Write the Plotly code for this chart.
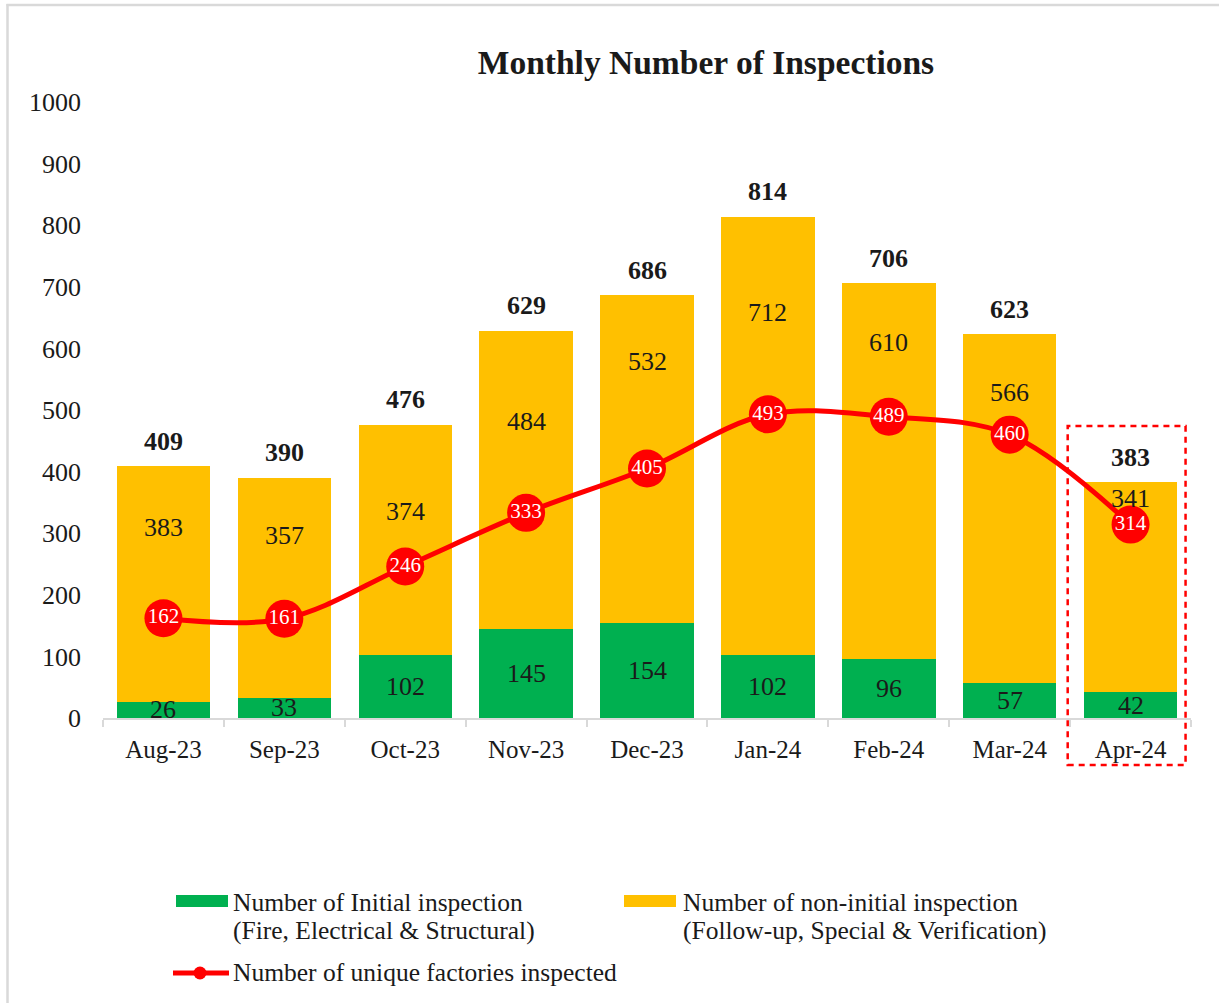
import plotly.graph_objects as go

# ---------------- data ----------------
months = ["Aug-23", "Sep-23", "Oct-23", "Nov-23", "Dec-23", "Jan-24", "Feb-24", "Mar-24", "Apr-24"]
initial = [26, 33, 102, 145, 154, 102, 96, 57, 42]
non_initial = [383, 357, 374, 484, 532, 712, 610, 566, 341]
unique_factories = [162, 161, 246, 333, 405, 493, 489, 460, 314]
y_ticks = [0, 100, 200, 300, 400, 500, 600, 700, 800, 900, 1000]

# label anchor heights (data units) for the non-initial labels, as placed in the original
non_initial_label_y = [309, 297, 336, 482, 578, 658, 609, 528, 357]

totals = [a + b for a, b in zip(initial, non_initial)]

# ---------------- styling ----------------
FONT = "Liberation Serif"
GREEN = "#00B050"
YELLOW = "#FFC000"
RED = "#FF0000"
TXT = "#1a1a1a"
AXIS_GREY = "#d9d9d9"

W_FIG, H_FIG = 1219, 1003
M_L, M_R, M_T, M_B = 103, 28, 102, 285
PW = W_FIG - M_L - M_R
PH = H_FIG - M_T - M_B


def px_x(px):
    return (px - M_L) / PW


def px_y(py):
    return (H_FIG - M_B - py) / PH


fig = go.Figure()

fig.add_trace(go.Bar(
    x=months, y=initial, name="Number of Initial inspection<br>(Fire, Electrical & Structural)",
    marker=dict(color=GREEN, line=dict(width=0)), showlegend=False, hoverinfo="x+y",
))
fig.add_trace(go.Bar(
    x=months, y=non_initial, name="Number of non-initial inspection<br>(Follow-up, Special & Verification)",
    marker=dict(color=YELLOW, line=dict(width=0)), showlegend=False, hoverinfo="x+y",
))
fig.add_trace(go.Scatter(
    x=months, y=unique_factories, name="Number of unique factories inspected",
    mode="lines+markers+text",
    line=dict(color=RED, width=5, shape="spline", smoothing=1.0),
    marker=dict(color=RED, size=38, line=dict(width=0)),
    text=[str(v) for v in unique_factories], textposition="middle center",
    textfont=dict(family=FONT, size=21, color="white"),
    showlegend=False, cliponaxis=False,
))

annotations = []
# green segment labels (centred)
for m, v in zip(months, initial):
    annotations.append(dict(x=m, y=v / 2, xref="x", yref="y", text=str(v), showarrow=False,
                            font=dict(family=FONT, size=26, color=TXT), yanchor="middle"))
# yellow segment labels
for m, v, ly in zip(months, non_initial, non_initial_label_y):
    annotations.append(dict(x=m, y=ly, xref="x", yref="y", text=str(v), showarrow=False,
                            font=dict(family=FONT, size=26, color=TXT), yanchor="middle"))
# totals above bars
for m, v in zip(months, totals):
    annotations.append(dict(x=m, y=v, xref="x", yref="y", text="<b>%d</b>" % v, showarrow=False,
                            font=dict(family=FONT, size=26, color=TXT), yanchor="middle", yshift=25))

# custom legend texts
leg_font = dict(family=FONT, size=25.5, color=TXT)
legend_rows = [
    (231, 902, "Number of Initial inspection"),
    (231, 930, "(Fire, Electrical & Structural)"),
    (681, 902, "Number of non-initial inspection"),
    (681, 930, "(Follow-up, Special & Verification)"),
    (231, 973, "Number of unique factories inspected"),
]
for lx, ly, t in legend_rows:
    annotations.append(dict(x=px_x(lx), y=px_y(ly), xref="paper", yref="paper", text=t,
                            showarrow=False, xanchor="left", yanchor="middle", font=leg_font))

shapes = [
    # outer frame (top + left edge of the original screenshot)
    dict(type="line", xref="paper", yref="paper", x0=px_x(6.5), x1=px_x(W_FIG), y0=px_y(5), y1=px_y(5),
         line=dict(color=AXIS_GREY, width=2.5), layer="above"),
    dict(type="line", xref="paper", yref="paper", x0=px_x(7.5), x1=px_x(7.5), y0=px_y(4), y1=px_y(H_FIG),
         line=dict(color=AXIS_GREY, width=2.5), layer="above"),
    # highlight box around the latest month
    dict(type="rect", xref="x", yref="paper", x0=7.48, x1=8.455, y0=px_y(765), y1=px_y(426),
         line=dict(color=RED, width=2.5, dash="6px,5px"), fillcolor="rgba(0,0,0,0)", layer="above"),
    # legend swatches
    dict(type="rect", xref="paper", yref="paper", x0=px_x(176), x1=px_x(228), y0=px_y(907), y1=px_y(895),
         fillcolor=GREEN, line=dict(width=0)),
    dict(type="rect", xref="paper", yref="paper", x0=px_x(624), x1=px_x(676), y0=px_y(907), y1=px_y(895),
         fillcolor=YELLOW, line=dict(width=0)),
    dict(type="line", xref="paper", yref="paper", x0=px_x(173), x1=px_x(229), y0=px_y(973), y1=px_y(973),
         line=dict(color=RED, width=5)),
    dict(type="circle", xref="paper", yref="paper", x0=px_x(193.5), x1=px_x(206.5), y0=px_y(979.5), y1=px_y(966.5),
         fillcolor=RED, line=dict(width=0)),
]

fig.update_layout(
    width=W_FIG, height=H_FIG,
    margin=dict(l=M_L, r=M_R, t=M_T, b=M_B, pad=0, autoexpand=False),
    paper_bgcolor="white", plot_bgcolor="white",
    barmode="stack", bargap=0.227,
    title=dict(text="<b>Monthly Number of Inspections</b>", xref="paper", x=px_x(706), xanchor="center",
               yref="container", y=1 - 62 / H_FIG, yanchor="middle",
               font=dict(family=FONT, size=33.5, color=TXT)),
    font=dict(family=FONT, size=25, color=TXT),
    annotations=annotations,
    shapes=shapes,
    showlegend=False,
)

fig.update_xaxes(
    type="category", range=[-0.5, len(months) - 0.5], autorange=False,
    showgrid=False, showline=True, linecolor=AXIS_GREY, linewidth=2,
    ticks="outside", tickson="boundaries", ticklen=7, tickcolor=AXIS_GREY, tickwidth=2,
    tickfont=dict(family=FONT, size=25, color=TXT), ticklabelstandoff=8, zeroline=False,
    automargin=False,
)
fig.update_yaxes(
    range=[0, 1000], autorange=False, tickvals=y_ticks, showgrid=False, showline=False, zeroline=False,
    ticks="", tickfont=dict(family=FONT, size=26, color=TXT), ticklabelstandoff=21,
    automargin=False,
)

fig.write_html("out.html", config={"displayModeBar": False},
               post_script="document.body.style.margin='0';document.body.style.overflow='hidden';")
